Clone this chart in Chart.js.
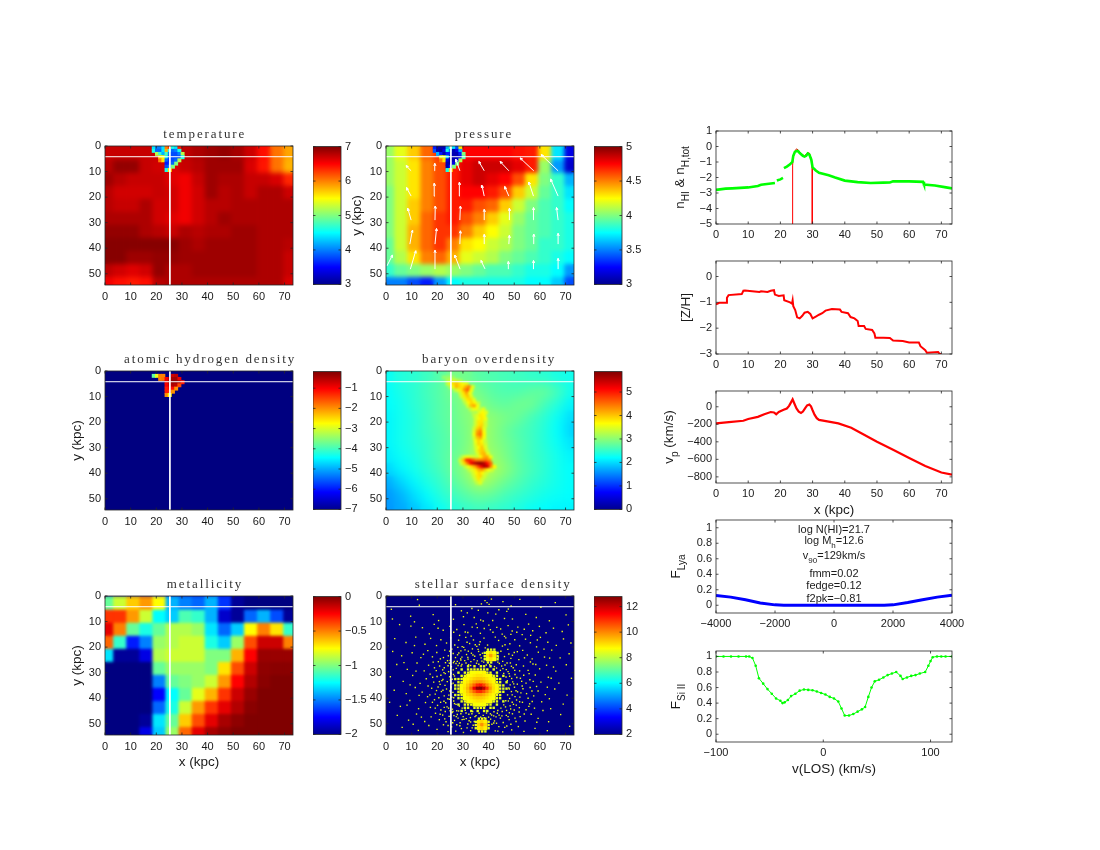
<!DOCTYPE html>
<html>
<head>
<meta charset="utf-8">
<title>Galaxy slice panels</title>
<script src="https://cdn.jsdelivr.net/npm/chart.js@4"></script>
<style>
body { margin: 0; background: #fff; width: 1100px; height: 850px; position: relative; overflow: hidden; }
canvas { position: absolute; }
</style>
</head>
<body>
<script>
const n = null;

// axes
const mapTicksX = [0, 10, 20, 30, 40, 50, 60, 70];
const mapTicksY = [0, 10, 20, 30, 40, 50];
const mapMaxX = 73.3;
const mapMaxY = 54.4;
const crossX = 25.3;
const crossY = 4.2;

// coarse cells of the maps (kpc)
const gridX = [0.75, 5.85, 10.95, 16.05, 21.15, 26.25, 31.35, 36.45, 41.55, 46.65, 51.75, 56.85, 61.95, 67.05, 72.15];
const gridY = [-2.15, 2.95, 8.05, 13.15, 18.25, 23.35, 28.45, 33.55, 38.65, 43.75, 48.85, 53.95];
// fine cells round the cold clump
const clumpX = [19, 20.25, 21.5, 22.75, 24, 25.25, 26.5, 27.75, 29, 30.25];
const clumpY = [0.6, 1.9, 3.1, 4.4, 5.6, 6.9, 8.1, 9.4];

const temperature = [
  [6.72,6.72,6.72,6.72,6.72,6.72,6.75,6.82,6.88,6.92,6.85,6.7,6.45,6.05,5.85],
  [6.72,6.72,6.72,6.72,6.72,6.72,6.75,6.82,6.88,6.92,6.85,6.7,6.45,6.05,5.85],
  [6.78,6.92,6.92,6.72,6.68,6.62,6.72,6.78,6.88,6.88,6.88,6.65,6.42,6.05,5.8],
  [6.88,6.78,6.72,6.72,6.72,6.62,6.55,6.72,6.88,6.82,6.82,6.72,6.72,6.65,6.35],
  [6.78,6.68,6.68,6.68,6.72,6.68,6.55,6.68,6.88,6.78,6.82,6.72,6.82,6.82,6.7],
  [6.78,6.72,6.72,6.82,6.68,6.68,6.55,6.68,6.78,6.78,6.82,6.82,6.82,6.82,6.82],
  [6.82,6.82,6.82,6.82,6.68,6.62,6.55,6.68,6.78,6.88,6.82,6.82,6.82,6.82,6.82],
  [6.92,6.92,6.92,6.82,6.78,6.72,6.82,6.78,6.82,6.82,6.88,6.88,6.82,6.82,6.82],
  [6.97,6.97,6.97,6.97,6.97,6.97,6.88,6.82,6.88,6.88,6.88,6.88,6.82,6.82,6.78],
  [6.97,6.97,6.88,6.88,6.92,6.92,6.88,6.88,6.88,6.88,6.88,6.88,6.82,6.82,6.72],
  [6.75,6.68,6.62,6.68,6.92,6.82,6.82,6.88,6.88,6.88,6.88,6.88,6.82,6.82,6.72],
  [6.55,6.45,6.4,6.45,6.78,6.82,6.82,6.82,6.82,6.82,6.82,6.82,6.82,6.82,6.65]
];
const temperatureClump = [
  [4.4,4,4,4.4,6,6.3,4.6,4.4,6.4,n],
  [4.6,3.9,3.9,4.4,5.8,4.6,3.9,4,4.6,n],
  [n,5.2,4.7,4.2,4.8,4,3.8,3.8,4,5.2],
  [n,n,5.6,5.5,4.6,3.8,3.8,3.8,3.8,4.6],
  [n,n,6,5.6,3.9,3.7,3.8,3.9,5.2,n],
  [n,n,n,n,3.6,3.7,3.9,5,n,n],
  [n,n,n,n,3.8,4,5,n,n,n],
  [n,n,n,n,4.6,5.6,n,n,n,n]
];

const pressure = [
  [4.05,4.2,4.35,4.55,4.65,4.7,4.75,4.75,4.75,4.75,4.72,4.7,4.3,3.7,3.2],
  [4.05,4.2,4.35,4.55,4.65,4.7,4.75,4.75,4.75,4.75,4.72,4.7,4.3,3.7,3.2],
  [4.05,4.15,4.3,4.5,4.6,4.7,4.8,4.85,4.85,4.85,4.8,4.7,4.05,3.55,3.15],
  [4.05,4.15,4.3,4.5,4.6,4.7,4.8,4.85,4.8,4.75,4.6,4.3,4.0,3.85,3.6],
  [4.0,4.15,4.3,4.5,4.6,4.7,4.75,4.75,4.7,4.6,4.35,4.15,3.95,3.85,3.7],
  [4.0,4.15,4.35,4.5,4.6,4.7,4.7,4.6,4.55,4.35,4.15,4.0,3.9,3.85,3.75],
  [4.0,4.15,4.35,4.55,4.65,4.7,4.6,4.5,4.35,4.2,4.05,3.95,3.9,3.85,3.8],
  [4.0,4.15,4.4,4.55,4.65,4.65,4.5,4.35,4.25,4.15,4.0,3.95,3.9,3.85,3.8],
  [3.95,4.15,4.4,4.55,4.65,4.5,4.3,4.25,4.15,4.1,4.0,3.95,3.85,3.85,3.8],
  [3.95,4.1,4.3,4.5,4.55,4.4,4.2,4.15,4.1,4.0,3.95,3.9,3.85,3.8,3.75],
  [3.85,3.95,4.0,4.05,4.1,4.05,4.0,3.95,3.9,3.9,3.85,3.8,3.8,3.75,3.55],
  [3.5,3.5,3.4,3.3,3.55,3.75,3.8,3.8,3.8,3.8,3.8,3.75,3.75,3.65,3.4]
];
const pressureClump = [
  [3.3,3.1,3.1,3.1,3.6,3.9,3.7,3.4,4.3,n],
  [3.4,3.1,3.05,3.2,3.8,3.5,3.1,3.2,3.6,n],
  [n,3.6,3.3,3.1,3.3,3.3,3.1,3.1,3.3,4],
  [n,n,4.2,4.2,3.7,3.1,3.1,3.1,3.2,3.9],
  [n,n,4.5,4.3,3.2,3.05,3.1,3.2,4.1,n],
  [n,n,n,n,3.1,3.05,3.2,4,n,n],
  [n,n,n,n,3.1,3.3,4,n,n,n],
  [n,n,n,n,3.8,4.3,n,n,n,n]
];
// gas velocity arrows on the pressure map: [tail x, tail y, head x, head y]
const velocityArrows = [
  [0.4,46.9,2.5,42.7],[9.5,48.2,11.6,41],[19.1,48.2,19.1,40.8],[28.9,48.2,26.8,42.7],[38.6,48.1,37,44.8],[47.7,48.2,47.7,45.2],[57.5,48.2,57.5,44.8],[67.1,48.2,67.1,44],
  [9.3,38.4,10.3,32.9],[19.1,38.4,19.7,32.3],[28.8,38.4,29,33.2],[38.3,38.4,38.3,34.6],[47.9,38.4,48.1,35],[57.6,38.4,57.6,34.5],[67.1,38.4,67.1,34.2],
  [9.8,29,8.5,24.4],[19.1,29,19.2,23.5],[28.8,29,29,23.5],[38.3,29,38.3,24.8],[48.1,29,48.1,24.4],[57.5,29,57.5,24.1],[67.1,29,66.5,24.1],
  [9.8,19.6,8,16.3],[19.1,19.6,18.8,14.6],[28.8,19.6,28.6,14.2],[38.3,19.6,37.4,15.4],[47.9,19.6,46.3,15.9],[57.5,19.6,55.7,14.1],[67.1,19.6,64.2,13],
  [9.8,9.7,7.8,7.7],[19.1,9.7,19,6.8],[28.8,9.7,27.2,5.2],[38.3,9.7,36.2,6.1],[47.9,9.7,44.5,6.1],[57.6,9.7,52.3,4.7],[67.1,9.7,60.5,3.4]
];

// one big cell is enough for the flat floors of the HI and stellar maps
const floorX = [36.65];
const floorY = [27.2];
const hiFloor = [[-7]];
const stellarFloor = [[2]];
const hiClump = [
  [n,n,n,n,n,n,n,n,n,n],
  [-3.8,-2.9,-1.9,-1.9,n,n,-0.7,-0.6,n,n],
  [n,n,-1.9,-1.8,-1,-0.6,-0.4,-0.4,-0.9,n],
  [n,n,n,n,-0.9,-0.5,-0.3,-0.3,-0.5,-1.2],
  [n,n,n,n,-1,-0.7,-0.5,-0.6,-1.5,n],
  [n,n,n,n,-1.2,-1,-1.1,-2,n,n],
  [n,n,n,n,-1.2,-1.3,-2,n,n,n],
  [n,n,n,n,-2,-2.7,n,n,n,n]
];

const baryon = [
  [2.25,2.4,2.45,2.55,2.7,2.9,2.85,2.7,2.65,2.6,2.55,2.5,2.45,2.35,2.3],
  [2.25,2.4,2.45,2.55,2.7,2.9,2.85,2.7,2.65,2.6,2.55,2.5,2.45,2.35,2.3],
  [2.2,2.35,2.45,2.6,2.7,2.9,3.0,2.85,2.7,2.65,2.65,2.75,2.8,2.6,2.3],
  [2.2,2.3,2.45,2.55,2.7,2.8,3.0,3.0,2.8,2.75,2.85,2.85,2.6,2.4,2.15],
  [2.15,2.3,2.4,2.55,2.7,2.8,2.95,3.1,3.0,2.9,2.8,2.6,2.45,2.25,2.0],
  [2.15,2.3,2.4,2.55,2.65,2.8,2.9,3.2,3.0,2.8,2.65,2.55,2.4,2.2,1.95],
  [2.15,2.3,2.4,2.5,2.65,2.75,2.9,3.2,3.0,2.85,2.7,2.55,2.4,2.25,2.05],
  [2.1,2.25,2.35,2.5,2.65,2.8,2.95,3.3,3.1,2.9,2.7,2.55,2.45,2.3,2.15],
  [1.95,2.15,2.3,2.45,2.6,2.8,3.05,3.5,3.2,3.0,2.75,2.6,2.45,2.3,2.2],
  [1.7,1.95,2.15,2.35,2.5,2.7,2.9,3.2,3.0,2.8,2.65,2.5,2.4,2.3,2.2],
  [1.6,1.75,2.0,2.2,2.4,2.55,2.7,2.8,2.75,2.6,2.5,2.4,2.3,2.25,2.2],
  [1.6,1.7,1.85,2.05,2.25,2.4,2.5,2.55,2.5,2.45,2.35,2.25,2.2,2.15,2.15]
];
// filament cells, 1.25 kpc wide: [y, first x, values...]
const filament = [
  [2.5,22.5,3.05,3.05,3.1,3.1],
  [3.75,24,3.2,3.3,3.4,3.3,3.15],
  [5,24,3.3,3.7,3.9,4.0,3.8,3.6,3.5],
  [6.25,25,3.2,3.6,4.1,3.9,3.8,4.1,4.4,3.5],
  [7.5,27,3.3,3.5,3.8,4.3,4.6,3.6],
  [8.75,29,3.4,3.8,4.2,3.6],
  [10,29.5,3.4,3.8,4.0,3.5],
  [11.25,30.5,3.4,3.8,3.9,3.5],
  [12.5,31,3.3,3.7,3.9,3.7,3.3],
  [13.75,32,3.4,4.0,4.2,3.6],
  [15,33,3.3,3.6,3.6,3.3,3.5],
  [16.25,34,3.2,3.2,3.5,3.7,3.5],
  [17.5,34.5,3.3,3.5,3.8,3.7],
  [18.75,35,3.4,3.6,3.8,3.6],
  [20,35,3.4,3.8,3.8,3.4],
  [21.25,35,3.4,3.8,3.9,3.4],
  [22.5,34.5,3.4,3.9,4.1,3.5],
  [23.75,34.5,3.5,4.2,4.4,3.6],
  [25,34.5,3.6,4.3,4.5,3.7],
  [26.25,34.5,3.4,4.0,4.2,3.6],
  [27.5,35,3.6,3.9,3.7,3.3],
  [28.75,35,3.5,3.9,3.8,3.4],
  [30,35,3.4,3.7,4.0,3.5],
  [31.25,35.5,3.5,3.9,4.0,3.4],
  [32.5,36,3.5,4.0,4.1,3.5],
  [33.75,29.5,3.2,3.5,3.6,3.5,3.4,3.4,3.7,4.1,4.2,3.6],
  [35,29,3.4,4.0,4.9,5,4.7,4.4,4.4,4.4,4.5,4.3],
  [36.25,29.5,3.4,3.9,4.5,5.2,5.5,5.7,5.8,5.6,5.1,4.6],
  [37.5,31,3.3,3.6,3.9,4.2,4.7,5.2,5.6,5.4,4.4,3.7],
  [38.75,32.5,3.3,3.5,3.8,4.1,4.3,4.0,3.6,3.4],
  [40,34,3.4,3.7,3.9,3.7,3.4],
  [41.25,34.5,3.4,3.8,3.9,3.4],
  [42.5,35,3.4,3.8,3.4],
  [43.75,35.5,3.3,3.5]
];

const metallicity = [
  [-1.9,-1.9,-1.9,-1.9,-1.7,-1.9,-1.9,-1.9,-1.9,-1.9,-1.95,-2,-2,-2,-2],
  [-1.05,-0.85,-0.65,-0.55,-0.75,-1.4,-1.5,-1.55,-1.4,-1.65,-1.95,-2,-2,-2,-2],
  [-0.35,-0.35,-0.55,-0.85,-1.25,-1.35,-1.1,-1.15,-1.4,-1.85,-1.95,-1.55,-1.4,-1.6,-1.95],
  [-0.2,-0.5,-1.05,-1.2,-1.05,-0.9,-0.9,-0.95,-1.3,-1.55,-1.35,-0.75,-0.5,-0.7,-1.15],
  [-0.45,-1.15,-1.7,-1.5,-0.95,-0.9,-0.85,-0.85,-1.2,-1.35,-0.95,-0.4,-0.15,-0.15,-0.5],
  [-1.3,-1.95,-1.95,-1.8,-0.9,-0.85,-0.85,-0.85,-1.0,-1.0,-0.6,-0.25,-0.05,-0.05,-0.05],
  [-2,-2,-2,-2,-1.05,-0.95,-0.95,-0.95,-1.0,-0.7,-0.4,-0.15,-0.03,-0.02,-0.02],
  [-2,-2,-2,-2,-1.5,-1.05,-1.0,-0.95,-0.85,-0.55,-0.25,-0.1,-0.02,0,0],
  [-2,-2,-2,-2,-1.75,-1.25,-1.05,-0.8,-0.6,-0.35,-0.15,-0.05,0,0,0],
  [-2,-2,-2,-2,-1.55,-1.2,-0.85,-0.55,-0.35,-0.2,-0.1,-0.02,0,0,0],
  [-2,-2,-2,-1.95,-1.3,-1.05,-0.65,-0.4,-0.2,-0.08,-0.03,0,0,0,0],
  [-2,-2,-2,-1.8,-1.35,-0.95,-0.45,-0.2,-0.08,-0.03,0,0,0,0,0]
];

// stellar disc and the two satellites
const discX = [27,28.25,29.5,30.75,32,33.25,34.5,35.75,37,38.25,39.5,40.75,42,43.25,44.5,45.75,47];
const discY = [27.5,28.75,30,31.25,32.5,33.75,35,36.25,37.5,38.75,40,41.25,42.5,43.75,45];
const disc = [
  [n,n,n,n,8.4,n,8.5,n,8.5,8.5,n,8.4,n,n,n,n,n],
  [n,n,8.4,n,8.5,8.5,8.6,8.5,8.6,8.5,8.6,n,8.5,n,n,n,n],
  [n,8.4,n,8.5,8.6,8.7,8.7,8.8,8.7,8.8,8.6,8.6,n,8.4,n,n,n],
  [n,n,8.5,8.6,8.7,8.8,8.9,9,9,8.9,8.8,8.7,8.6,8.5,n,8.4,n],
  [8.4,8.5,8.5,8.7,8.8,9,9.2,9.3,9.3,9.2,9,8.8,8.7,8.5,8.5,n,n],
  [n,8.5,8.6,8.8,9,9.3,9.6,9.8,9.8,9.6,9.3,9,8.8,8.6,8.5,n,8.4],
  [8.5,8.5,8.7,8.9,9.3,9.8,10.4,11,11.2,10.7,10,9.4,9,8.7,8.5,8.5,n],
  [8.4,8.6,8.7,9,9.5,10.3,11.6,12.6,12.7,12.1,10.9,9.8,9.1,8.8,8.6,8.4,8.5],
  [n,8.5,8.7,8.9,9.3,9.8,10.4,10.9,11,10.6,10,9.4,9,8.7,8.5,8.5,n],
  [8.4,8.5,8.6,8.8,9.1,9.3,9.6,9.8,9.8,9.6,9.3,9,8.8,8.6,8.5,n,n],
  [n,8.4,8.5,8.7,8.8,9,9.2,9.3,9.3,9.2,9,8.8,8.7,8.5,8.4,n,n],
  [n,n,8.5,8.6,8.7,8.8,8.9,9,9,8.9,8.8,8.7,8.5,8.5,n,8.4,n],
  [n,8.4,n,8.5,8.6,8.6,8.7,8.7,8.7,8.7,8.6,8.5,n,8.4,n,n,n],
  [n,n,n,8.4,8.5,n,8.5,8.6,8.6,8.5,n,8.5,8.4,n,n,n,n],
  [n,n,8.4,n,n,8.5,n,8.5,n,8.5,8.4,n,n,n,n,n,n]
];
const satelliteAX = [38.5,39.75,41,42.25,43.5];
const satelliteAY = [21,22.25,23.5,24.75,26];
const satelliteA = [[n,8.4,8.5,8.4,n],[8.4,8.7,9,8.7,8.4],[8.5,9,9.7,9,8.5],[8.4,8.7,9,8.7,8.4],[n,8.4,8.5,n,n]];
const satelliteBX = [35,36.25,37.5,38.75,40];
const satelliteBY = [48,49.25,50.5,51.75,53];
const satelliteB = [[n,8.5,8.6,8.5,n],[8.5,8.9,9.2,8.9,8.5],[8.6,9.2,9.9,9.2,8.6],[8.5,8.9,9.2,8.9,8.5],[n,8.5,8.6,8.4,n]];
// single star pixels
const starSpecks = [
  [12.3,1.4],[38.6,1.8],[39.4,2.6],[37.2,3.1],[40.2,3.3],[41.1,1.2],[13,3.6],[33.5,4.9],[45.6,2.2],[48.8,3.9],[52.2,1.3],[66,2.6],[60.4,4.4],[2.1,5.2],[36,5.6],[31.7,6.6],[47.1,6],[47.7,5.1],[27.1,3.4],[29.4,5.8],[39.7,6.6],[42.8,7.1],[44,5.4],[54.5,7.2],[18.4,7.3],[9.6,7.9],[2.5,9],[30.2,8.1],[34.4,8.4],[36.9,9.4],[41.6,9.6],[46.2,8.8],[49.3,9],[58.6,8.4],[63.7,9.7],[70.2,7.4],[20.5,9.6],[26.3,9.1],[11.1,10.1],
  [5.3,11.2],[9.7,11.8],[14.2,12.4],[18.8,11.1],[22.3,13.4],[24.9,11.9],[27.6,13.1],[30.4,11.2],[31.9,14.3],[33.6,12.2],[35.2,10.9],[36.8,14.6],[38.3,12.7],[40.1,11.4],[41.7,14.2],[43.2,12.3],[45.3,14.9],[47.6,11.6],[49.2,13.7],[51.4,12.2],[53.1,15.1],[55.6,11],[57.2,13.6],[59.8,11.9],[62.4,14.4],[65.3,12.6],[68.7,13.9],[71.1,11.3],
  [3.4,16.7],[7.8,18.2],[11.6,16.1],[15.2,18.9],[17.4,16.6],[19.7,19.4],[21.4,17.1],[23.6,18.4],[25.2,16.4],[26.8,19.2],[28.3,17.3],[29.7,19.8],[31.1,16.2],[32.6,18.6],[34.1,17.2],[35.4,19.7],[36.7,17.9],[38.2,16.5],[39.6,19.2],[43.9,17.4],[45.4,19.6],[46.7,16.4],[48.3,18.7],[50.2,17.1],[52.1,19.5],[54.4,16.9],[56.3,18.3],[58.7,19.9],[60.2,16.2],[63.1,18.1],[66.4,19.3],[69.2,16.8],[72.1,18.4],
  [2.6,21.7],[6.1,23.4],[10.2,22.2],[13.6,24.1],[16.3,21.4],[18.1,23.8],[19.8,22.1],[21.2,24.6],[22.9,21.2],[24.3,23.4],[25.7,20.8],[27.1,24.1],[28.4,22.3],[29.6,23.9],[30.8,21.1],[32,24.7],[33.3,22.4],[34.6,23.6],[35.9,20.9],[37.1,24.2],[44.8,21.6],[46.2,23.7],[47.5,20.9],[48.7,24.4],[50,22.1],[51.8,24.9],[53.3,21.3],[55.1,23.1],[57,24.6],[59.4,22],[61.8,23.9],[64.6,21.2],[67.9,24.2],[71.4,22.6],
  [4.2,26.8],[8.3,28.7],[12.1,26.2],[14.9,29.3],[16.6,27.1],[18.4,25.9],[19.6,29.2],[20.9,27.4],[22.1,28.9],[23.2,26.1],[24.4,29.6],[25.5,27.7],[26.6,25.6],[27.4,28.3],[28.6,26.3],[29.3,27.4],[31.2,26.2],[33.1,25.7],[35.3,26.3],[38.1,25.9],[40.4,26.9],[42.3,27.6],[44.2,26.4],[45.6,28.4],[46.4,27],[47.6,29.6],[48.5,26.2],[49.6,28.1],[50.8,26.9],[52.1,29.3],[53.6,27.4],[55.4,29.1],[57.3,26.6],[59.9,28.5],[62.6,27.1],[66.2,29.4],[70.3,26.9],
  [1.7,31.6],[6.7,33.4],[10.4,31.1],[13.3,34.2],[15.7,32.4],[17.2,30.6],[18.6,33.7],[19.9,31.5],[21.1,34.6],[22.2,32.7],[23.1,30.4],[23.9,33.5],[24.8,31.6],[25.6,34.4],[26.3,30.7],[25.1,32.9],[48.2,31.4],[49.4,33.6],[50.3,30.7],[51.2,34.5],[52.4,32.2],[53.7,31],[54.6,34.1],[56.1,32.8],[58.2,30.9],[60.4,33.7],[63.3,31.8],[67.4,34.1],[72.3,32.2],
  [3.2,36.9],[7.9,38.2],[11.4,35.8],[14.1,37.6],[16.2,39.4],[17.8,36.1],[19.2,38.4],[20.3,35.6],[21.6,37.4],[22.7,39.1],[23.6,36.4],[24.5,38.8],[25.3,35.4],[26.1,37.7],[26.4,39.8],[48.1,36.4],[49.2,38.7],[50.1,35.7],[51.3,37.5],[52.2,39.6],[53.4,36.3],[54.8,38.2],[56.2,35.8],[57.6,39.1],[59.3,37.2],[62.1,38.6],[65.8,36.4],[70.6,38.8],
  [1.4,41.6],[5.6,43.2],[9.3,40.9],[12.7,44.1],[15.4,41.7],[17.3,43.6],[18.9,40.6],[20.1,42.8],[21.4,44.6],[22.6,41.2],[23.8,43.4],[24.7,40.4],[25.9,44.3],[26.7,42.1],[27.6,44.9],[46.6,43.4],[47.7,41.1],[48.6,44.2],[49.7,42.4],[50.9,40.7],[52,43.7],[53.2,41.6],[54.6,44.5],[56,42.2],[57.9,43.9],[60.7,41.4],[64.2,44.1],[69.1,42.3],
  [4.4,46.7],[8.8,48.6],[11.9,46.2],[15.1,49.1],[17.6,47.3],[19.3,45.9],[20.8,48.4],[22.1,46.6],[23.4,49.2],[24.6,47.1],[25.8,45.6],[26.7,48.7],[27.8,46.4],[28.9,49.6],[30.1,47.2],[31.2,45.8],[32.4,48.8],[33.5,46.1],[34.7,47.2],[41.2,46.6],[42.3,48.9],[43.4,45.9],[44.6,47.8],[45.7,49.5],[46.9,46.7],[48,48.4],[49.3,46.1],[50.7,49.1],[52.3,47.2],[54.2,48.9],[56.6,46.3],[59.3,47.9],[63.4,49.2],[68.1,46.4],
  [6.3,51.4],[12.6,52.6],[16.7,50.7],[19.9,52.2],[22.4,50.4],[24.2,53.1],[25.6,51.2],[27.2,52.9],[28.8,50.8],[30.2,53.4],[31.6,51.6],[33,52.7],[34,50.6],[41.3,50.2],[42.6,52.8],[44,51.1],[45.5,53.2],[47.1,50.9],[49,52.4],[51.6,51.1],[53.8,53],[58.1,51.8],[62.9,52.7],[71.6,51],
  // densest ring round the disc
  [27.3,26.4],[28.1,27.2],[26.2,28.9],[25.4,30.2],[27.8,25.6],[29.6,26.8],[30.7,25.3],[32.2,26.9],[34.3,24.9],[36.2,26.7],[37.4,25.5],[39.1,27],[41.2,25.1],[43.1,28.2],[44.6,29.1],[45.9,30.3],[46.8,31.7],[47.3,33.1],[48.4,34.8],[47.9,36],[48.9,37.4],[47.4,38.7],[48.2,40.1],[46.7,41],[45.9,42.6],[44.8,43.9],[43.6,44.8],[42.1,45.3],[40.7,46.1],[39.2,45.8],[37.9,46.7],[36.3,45.9],[35.1,46.8],[33.8,45.2],[32.3,46.3],[30.9,44.7],[29.7,43.9],[28.6,43.1],[27.3,42.4],[26.4,41.1],[25.7,39.6],[24.9,37.2],[25.3,35.9],[26.2,34.1],[25.8,32.6],[26.7,31.3],
  [24.2,27.3],[25,25.2],[22.6,30],[21.8,33.1],[23,35],[22.2,36.9],[24.1,40.2],[23.3,41.8],[24.4,43.9],[26.1,45.2],[27.4,47.2],[29.2,46.1],[28.3,45],[30.4,48.3],[32.9,47.6],[35.8,48.9],[34.4,49.1],[40.8,48.2],[42.9,47.3],[44.1,46.6],[45.3,45.2],[47,44.8],[48.4,43],[49.2,41.6],[50.3,39.4],[50.7,37.1],[49.8,34.4],[49,32.3],[48,30.4],[46.9,28.8],[45.1,27.4],[43.6,25.9],[40.6,24.9],[36.7,23],[33.9,23.1],[31.4,22.9],[29.1,24.6],[27.9,23],[26.3,26.1],[24.7,26.3],
  [29.2,25.1],[31.9,24],[33,27.2],[35.6,25.4],[38.6,24.3],[43.8,23.9],[45.5,25.6],[47.2,26.2],[48.9,27.5],[50.2,29.1],[51,31.9],[52.9,33.4],[53.1,35.2],[52.6,37.9],[52.1,41.4],[50.8,42.7],[50,44.6],[48.1,45.7],[47.6,47.2],[45.2,46.9],[43.1,49.8],[42,46.9],[40,47.4],[38.3,47.6],[36.9,47.4],[33,49.3],[31.3,48],[29.7,48.4],[28.1,47.8],[26.5,46.8],[25,44.9],[23.1,45.2],[22.7,43.6],[21.3,41.6],[20.6,39.8],[19.7,37],[20.8,33.5],[21.4,31],[22.7,28.1],[24,25.3],
  [30.3,20.1],[32.1,21.6],[34.8,19.1],[36.1,21.7],[38.7,20.3],[37.6,22.4],[36.4,19],[33.7,20.7],[31.6,18.1],[29.2,21.5],[28,20.1],[26.2,22.5],[24.8,21.6],[46.4,19.1],[47.9,22.7],[49.3,23.2],[51.2,21.8],[54,24.2],[56.3,25.8],[58.4,26.8],[55.8,30.4],[57.4,33.4],[58.7,35.4],[56.9,37.2],[55.4,40],[57,41.3],[55.7,43.2],[53.9,46.2],[51.9,45.4],[50.3,47.8],[48.7,50.2],[46.3,51.4],[43.6,52.9],[42,49.7],[33.6,51.6],[31.9,50.1],[29.4,51.9],[27.6,50.4],[26,49.6],[24.2,50.7],[22.9,48.1],[21.1,46.3],[19.2,43.9],[18.1,41.6],[17.1,38.7],[16.4,35.2],[18.2,31.8],[18.9,28.1],[20.4,25.7],[22.4,24.1],
  [37.9,9.8],[35.6,12.4],[33.2,15.7],[30.9,14.1],[28.7,15.4],[26.4,14.2],[40.7,13.2],[42.6,16.1],[44.7,12.9],[46.2,15.8],[48.7,15],[51,14.2],[53.9,13],[56.4,15.4],[59,17.2],[61.6,20.8],[63.8,24.3],[65.3,27.8],[64.4,32.2],[62.9,35.7],[63.7,40.2],[61.2,44.8],[58.8,49.4],[11.7,29.4],[9.4,34.8],[12.9,38.9],[8.2,42.7],[13.8,47.4],[10.6,50.2],[7,26.1],[14.6,22.8],[11.1,19.4],[16.9,14.8],[20.3,12.6]
];

// right column profiles
const hiX = [23.7,23.8,24,24.5,25,25.5,26,27,27.5,28,28.5,29,29.6,29.9,29.9];
const hiDensity = [-5,-1.2,-0.7,-0.3,-0.15,-0.22,-0.35,-0.55,-0.58,-0.5,-0.4,-0.42,-0.8,-1.1,-5];
const hTotX = [0,3,5,10,13,14,18.3,18.6,18.9,20,20.8,20.9,21.1,22,23,23.7,24,24.5,25,25.5,26,27,27.5,28,28.5,29,29.6,30,31,32,35,37,40,44,48,52,54,55,60,64.3,64.6,68,71,73.3];
const hTotDensity = [-2.8,-2.72,-2.7,-2.64,-2.55,-2.47,-2.36,n,-2.2,-2.12,-2.03,n,-1.4,-1.3,-1.15,-1,-0.6,-0.35,-0.3,-0.3,-0.42,-0.6,-0.65,-0.6,-0.45,-0.52,-0.85,-1.35,-1.55,-1.7,-1.85,-2,-2.2,-2.3,-2.35,-2.33,-2.32,-2.25,-2.25,-2.28,-2.45,-2.52,-2.62,-2.7];

const zhX = [0,1,3.2,3.4,3.9,8,8.5,9,12,13.5,14,16,17,18,18.3,19.5,21,21.2,23,23.6,23.8,24,24.6,25.2,26,26.8,27.5,28.5,29.3,30,31,32,33,34,36,38.5,39,41,41.8,43,44,44.3,46,46.5,48.5,49.2,49.5,52,54,55,58,60,63,63.5,65,65.5,69,69.5,70];
const zhValues = [-1.08,-1.02,-1.02,-0.82,-0.72,-0.68,-0.55,-0.54,-0.58,-0.6,-0.57,-0.6,-0.55,-0.53,-0.7,-0.75,-0.73,-0.92,-1,-1.05,-0.92,-1.15,-1.3,-1.58,-1.62,-1.52,-1.4,-1.37,-1.45,-1.62,-1.55,-1.48,-1.42,-1.32,-1.26,-1.28,-1.37,-1.42,-1.57,-1.62,-1.72,-1.92,-1.92,-2.03,-2.07,-2.2,-2.37,-2.37,-2.38,-2.48,-2.5,-2.55,-2.55,-2.7,-2.85,-2.95,-2.92,-3,-3];

const vpX = [0,4,8.5,10,13,15,17,18,18.7,19.5,21,22,22.7,23.3,23.8,24.3,25,25.7,26.4,27,27.7,28.3,29,29.5,30,30.6,31.3,32,35,38,42,45,50,55,60,65,70,73.3];
const vpValues = [-190,-175,-160,-140,-115,-85,-60,-65,-85,-60,-35,-20,10,50,85,40,-20,-55,-70,-55,-15,15,25,5,-40,-90,-130,-150,-170,-190,-240,-300,-400,-490,-585,-675,-750,-775];

const lyaV = [-4000,-3500,-3000,-2500,-2000,-1700,1700,2000,2500,3000,3500,4000];
const lyaFlux = [0.125,0.105,0.07,0.03,0.005,0,0,0.005,0.035,0.07,0.105,0.13];
const sightlineNotes = ['log N(HI)=21.7', 'log M_{h}=12.6', 'v_{90}=129km/s', 'fmm=0.02', 'fedge=0.12', 'f2pk=\u22120.81'];
const sightlineNoteY = [0.97, 0.83, 0.63, 0.41, 0.245, 0.08];

const siV = [-100,-93,-86,-79,-72,-69,-66,-63,-60,-56,-52,-48,-44,-40,-38,-36,-33,-30,-26,-22,-18,-14,-10,-6,-2,2,6,10,14,17,20,24,28,32,36,39,42,45,48,52,56,60,64,68,72,74,78,82,86,90,95,98,100,102,106,110,114,120];
const siFlux = [1,1,1,1,1,1,0.98,0.88,0.72,0.65,0.58,0.52,0.46,0.43,0.4,0.41,0.44,0.49,0.52,0.56,0.575,0.57,0.565,0.55,0.53,0.51,0.48,0.46,0.42,0.33,0.24,0.24,0.26,0.29,0.32,0.35,0.48,0.6,0.68,0.7,0.73,0.76,0.78,0.8,0.75,0.71,0.73,0.75,0.76,0.78,0.8,0.88,0.94,0.99,1,1,1,1];

const jetStops = [[0,'#00008f'],[0.125,'#0000ff'],[0.375,'#00ffff'],[0.625,'#ffff00'],[0.875,'#ff0000'],[1,'#800000']];

function jet(v, range) {
  const t = Math.min(1, Math.max(0, (v - range[0]) / (range[1] - range[0])));
  const ch = d => Math.round(255 * Math.min(1, Math.max(0, 1.5 - Math.abs(4 * t - d))));
  return `rgb(${ch(3)},${ch(2)},${ch(1)})`;
}

function cellSet(points, size, range, soften) {
  return {
    data: points,
    clip: 0,
    soften: soften,
    showLine: false,
    pointStyle: 'rect',
    pointBorderWidth: 0,
    pointBackgroundColor: points.map(p => jet(p.v, range)),
    pointRadius: ctx => {
      const s = ctx.chart.scales.x;
      return (s.getPixelForValue(size) - s.getPixelForValue(0) + 0.6) / Math.SQRT2;
    }
  };
}

function gridPoints(xs, ys, rows) {
  const points = [];
  ys.forEach((y, j) => xs.forEach((x, i) => {
    if (rows[j][i] !== null) points.push({ x: x, y: y, v: rows[j][i] });
  }));
  return points;
}

function filamentPoints() {
  const points = [];
  filament.forEach(row => row.slice(2).forEach((v, i) => points.push({ x: row[1] + i * 1.25, y: row[0], v: v })));
  return points;
}

function zip(xs, ys) {
  return xs.map((x, i) => ({ x: x, y: ys[i] }));
}

function lineSet(points, color, width, dot) {
  return { data: points, showLine: true, borderColor: color, borderWidth: width, pointRadius: dot || 0, pointBackgroundColor: color, pointBorderWidth: 0, spanGaps: false, tension: 0 };
}

function crossSets() {
  return [
    lineSet([{ x: crossX, y: 0 }, { x: crossX, y: mapMaxY }], '#fff', 1),
    lineSet([{ x: 0, y: crossY }, { x: mapMaxX, y: crossY }], '#fff', 1)
  ];
}

function arrowSet() {
  const points = [];
  velocityArrows.forEach(a => {
    const dx = a[2] - a[0], dy = a[3] - a[1];
    const len = Math.hypot(dx, dy), ux = dx / len, uy = dy / len, barb = 0.95;
    points.push({ x: a[0], y: a[1] }, { x: a[2], y: a[3] },
      { x: a[2] - barb * ux - 0.4 * uy, y: a[3] - barb * uy + 0.4 * ux }, { x: a[2], y: a[3] },
      { x: a[2] - barb * ux + 0.4 * uy, y: a[3] - barb * uy - 0.4 * ux }, { x: NaN, y: NaN });
  });
  return lineSet(points, '#fff', 1);
}

function drawRich(c, str, x, y, size) {
  const parts = str.split(/_\{(.*?)\}/);
  const sub = Math.round(size * 0.76);
  let w = 0;
  parts.forEach((p, i) => { c.font = `${i % 2 ? sub : size}px "Liberation Sans"`; w += c.measureText(p).width; });
  let cx = x - w / 2;
  parts.forEach((p, i) => {
    c.font = `${i % 2 ? sub : size}px "Liberation Sans"`;
    c.fillText(p, cx, y + (i % 2 ? size * 0.4 : 0));
    cx += c.measureText(p).width;
  });
}

// box with inward ticks on all four sides, like the plotting package that made the original
const framePlugin = {
  id: 'frame',
  afterDraw(chart) {
    const a = chart.chartArea, c = chart.ctx;
    c.save();
    c.strokeStyle = '#262626';
    c.lineWidth = 0.8;
    c.strokeRect(a.left, a.top, a.width, a.height);
    c.beginPath();
    Object.values(chart.scales).forEach(s => {
      if (!s.options.display) return;
      s.ticks.forEach(t => {
        const p = s.getPixelForValue(t.value);
        if (s.isHorizontal()) {
          c.moveTo(p, a.bottom); c.lineTo(p, a.bottom - 2.5);
          c.moveTo(p, a.top); c.lineTo(p, a.top + 2.5);
        } else {
          c.moveTo(a.left, p); c.lineTo(a.left + 2.5, p);
          c.moveTo(a.right, p); c.lineTo(a.right - 2.5, p);
        }
      });
    });
    c.stroke();
    c.restore();
  }
};

// blurs what is drawn so far inside the plot box
const softenPlugin = {
  id: 'soften',
  afterDatasetDraw(chart, args) {
    const px = chart.data.datasets[args.index].soften;
    if (!px) return;
    const a = chart.chartArea, c = chart.ctx, r = chart.currentDevicePixelRatio;
    c.save();
    c.beginPath();
    c.rect(a.left, a.top, a.width, a.height);
    c.clip();
    c.filter = `blur(${px}px)`;
    c.drawImage(chart.canvas, a.left * r, a.top * r, a.width * r, a.height * r, a.left, a.top, a.width, a.height);
    c.restore();
  }
};

const labelPlugin = {
  id: 'panelLabels',
  afterDraw(chart, args, opts) {
    const a = chart.chartArea, c = chart.ctx;
    c.save();
    c.fillStyle = '#1a1a1a';
    if (opts.title) {
      c.font = '13px "Liberation Serif"';
      c.letterSpacing = '1.9px';
      c.textAlign = 'center';
      c.fillStyle = '#333';
      c.fillText(opts.title, chart.scales.x.getPixelForValue(opts.titleX), a.top - 8);
      c.letterSpacing = '0px';
      c.fillStyle = '#1a1a1a';
    }
    c.textAlign = 'left';
    if (opts.yLabel) {
      c.save();
      c.translate(a.left + opts.yLabelOffset, (a.top + a.bottom) / 2);
      c.rotate(-Math.PI / 2);
      drawRich(c, opts.yLabel, 0, 0, 13.5);
      c.restore();
    }
    if (opts.notes) {
      c.textBaseline = 'middle';
      opts.notes.forEach((t, i) => drawRich(c, t, chart.scales.x.getPixelForValue(0), chart.scales.y.getPixelForValue(opts.noteY[i]), 11));
    }
    c.restore();
  }
};

Chart.register(framePlugin, softenPlugin, labelPlugin);
Chart.defaults.animation = false;
Chart.defaults.events = [];
Chart.defaults.font.family = '"Liberation Sans"';
Chart.defaults.font.size = 11;
Chart.defaults.color = '#1a1a1a';

const tickText = v => String(v).replace('-', '\u2212');

function addCanvas(box, m) {
  const canvas = document.createElement('canvas');
  canvas.width = m.left + box.w + m.right;
  canvas.height = m.top + box.h + m.bottom;
  canvas.style.left = (box.x - m.left) + 'px';
  canvas.style.top = (box.y - m.top) + 'px';
  document.body.appendChild(canvas);
  return canvas;
}

function axis(min, max, ticks, size, extra) {
  return Object.assign({
    type: 'linear',
    min: min,
    max: max,
    afterBuildTicks: s => { s.ticks = ticks.map(v => ({ value: v })); },
    afterFit: s => { if (s.isHorizontal()) s.height = size; else s.width = size; },
    grid: { display: false, drawTicks: false },
    border: { display: false },
    ticks: { autoSkip: false, maxRotation: 0, minRotation: 0, padding: 4, callback: tickText }
  }, extra);
}

function axisTitle(text, top, bottom) {
  return { display: true, text: text, font: { size: 13.5 }, padding: { top: top, bottom: bottom } };
}

const plotMargin = { left: 56, top: 24, bottom: 36, right: 18 };

function plot(box, o) {
  const xExtra = {};
  const yExtra = { reverse: !!o.reverseY };
  if (o.xTitle) xExtra.title = axisTitle(o.xTitle, 0, 1);
  if (o.yTitle) yExtra.title = axisTitle(o.yTitle, o.yTitlePad, 0);
  const xa = axis(o.xRange[0], o.xRange[1], o.xTicks, plotMargin.bottom, xExtra);
  xa.ticks.padding = o.xPad || 5;
  new Chart(addCanvas(box, plotMargin), {
    type: 'scatter',
    data: { datasets: o.sets },
    options: {
      responsive: false,
      layout: { autoPadding: false, padding: { top: plotMargin.top, right: plotMargin.right, left: 0, bottom: 0 } },
      scales: { x: xa, y: axis(o.yRange[0], o.yRange[1], o.yTicks, plotMargin.left, yExtra) },
      plugins: {
        legend: { display: false },
        tooltip: { enabled: false },
        panelLabels: { title: o.title, titleX: o.titleX, yLabel: o.yLabel, yLabelOffset: o.yLabelOffset, notes: o.notes, noteY: o.noteY }
      }
    }
  });
}

function colorbar(box, range, ticks) {
  const m = { left: 0, top: 10, bottom: 10, right: 44 };
  new Chart(addCanvas(box, m), {
    type: 'bar',
    data: {
      labels: [''],
      datasets: [{
        data: [range],
        categoryPercentage: 1,
        barPercentage: 1,
        borderWidth: 0,
        backgroundColor: ctx => {
          const a = ctx.chart.chartArea;
          if (!a) return '#888';
          const g = ctx.chart.ctx.createLinearGradient(0, a.bottom, 0, a.top);
          jetStops.forEach(s => g.addColorStop(s[0], s[1]));
          return g;
        }
      }]
    },
    options: {
      responsive: false,
      layout: { autoPadding: false, padding: { top: m.top, bottom: m.bottom, left: 0, right: 0 } },
      scales: {
        x: { display: false },
        y: axis(range[0], range[1], ticks, m.right, { position: 'right' })
      },
      plugins: { legend: { display: false }, tooltip: { enabled: false } }
    }
  });
}

function mapPanel(col, rowTop, o) {
  const x = col === 0 ? 105 : 386;
  plot({ x: x, y: rowTop, w: 188, h: 139 }, {
    xRange: [0, mapMaxX], yRange: [0, mapMaxY], xTicks: mapTicksX, yTicks: mapTicksY, reverseY: true,
    title: o.title, titleX: o.titleX, xTitle: o.xTitle, yTitle: o.yTitle, yTitlePad: col === 0 ? 20 : 19,
    sets: o.sets
  });
  colorbar({ x: x + 208, y: rowTop, w: 28, h: 139 }, o.range, o.barTicks);
}

const tRange = [3, 7], pRange = [3, 5], hiRange = [-7, -0.18], bRange = [0, 5.87], zRange = [-2, 0], sRange = [2, 12.78];

// the faint outskirts of the disc and satellites are broken up, so those cells stay small
const starCells = [...gridPoints(discX, discY, disc), ...gridPoints(satelliteAX, satelliteAY, satelliteA), ...gridPoints(satelliteBX, satelliteBY, satelliteB)];
const starCore = starCells.filter(p => p.v >= 8.65);
const starEdge = starCells.filter(p => p.v < 8.65);

mapPanel(0, 146, {
  title: 'temperature', titleX: 38.9, range: tRange, barTicks: [3, 4, 5, 6, 7],
  sets: [...crossSets(),
    cellSet(gridPoints(clumpX, clumpY, temperatureClump), 1.3, tRange, 0.6),
    cellSet(gridPoints(gridX, gridY, temperature), 5.1, tRange, 2.4)]
});
mapPanel(1, 146, {
  title: 'pressure', titleX: 38.2, yTitle: 'y (kpc)', range: pRange, barTicks: [3, 3.5, 4, 4.5, 5],
  sets: [...crossSets(), arrowSet(),
    cellSet(gridPoints(clumpX, clumpY, pressureClump), 1.3, pRange, 0.6),
    cellSet(gridPoints(gridX, gridY, pressure), 5.1, pRange, 2)]
});
mapPanel(0, 371, {
  title: 'atomic hydrogen density', titleX: 41, yTitle: 'y (kpc)', range: hiRange, barTicks: [-7, -6, -5, -4, -3, -2, -1],
  sets: [...crossSets(),
    cellSet(gridPoints(clumpX, clumpY, hiClump), 1.3, hiRange, 0.6),
    cellSet(gridPoints(floorX, floorY, hiFloor), 76, hiRange)]
});
mapPanel(1, 371, {
  title: 'baryon overdensity', titleX: 40.2, range: bRange, barTicks: [0, 1, 2, 3, 4, 5],
  sets: [...crossSets(),
    cellSet(filamentPoints(), 1.3, bRange, 0.9),
    cellSet(gridPoints(gridX, gridY, baryon), 5.1, bRange, 6)]
});
mapPanel(0, 596, {
  title: 'metallicity', titleX: 39, xTitle: 'x (kpc)', yTitle: 'y (kpc)', range: zRange, barTicks: [-2, -1.5, -1, -0.5, 0],
  sets: [...crossSets(),
    cellSet(gridPoints(gridX, gridY, metallicity), 5.1, zRange, 1.5)]
});
mapPanel(1, 596, {
  title: 'stellar surface density', titleX: 41.8, xTitle: 'x (kpc)', range: sRange, barTicks: [2, 4, 6, 8, 10, 12],
  sets: [...crossSets(),
    cellSet(starCore, 1.3, sRange, 0.6),
    cellSet(starEdge, 0.7, sRange),
    cellSet(starSpecks.map(s => ({ x: s[0], y: s[1], v: 8.6 })), 0.3, sRange, 0.5),
    cellSet(gridPoints(floorX, floorY, stellarFloor), 76, sRange)]
});

const profileBox = y => ({ x: 716, y: y, w: 236, h: 93 });
plot(profileBox(131), {
  xRange: [0, mapMaxX], yRange: [-5, 1], xTicks: mapTicksX, yTicks: [-5, -4, -3, -2, -1, 0, 1], xPad: 4,
  yLabel: 'n_{HI} & n_{H,tot}', yLabelOffset: -32,
  sets: [lineSet(zip(hTotX, hTotDensity), '#00ff00', 2.6), lineSet(zip(hiX, hiDensity), '#ff0000', 1)]
});
plot(profileBox(261), {
  xRange: [0, mapMaxX], yRange: [-3, 0.6], xTicks: mapTicksX, yTicks: [-3, -2, -1, 0], xPad: 4,
  yTitle: '[Z/H]', yTitlePad: 18,
  sets: [lineSet(zip(zhX, zhValues), '#ff0000', 2)]
});
plot({ x: 716, y: 391, w: 236, h: 92 }, {
  xRange: [0, mapMaxX], yRange: [-870, 180], xTicks: mapTicksX, yTicks: [-800, -600, -400, -200, 0], xPad: 4,
  xTitle: 'x (kpc)', yLabel: 'v_{p} (km/s)', yLabelOffset: -43,
  sets: [lineSet(zip(vpX, vpValues), '#ff0000', 2.2)]
});
plot(profileBox(520), {
  xRange: [-4000, 4000], yRange: [-0.1, 1.1], xTicks: [-4000, -2000, 0, 2000, 4000], yTicks: [0, 0.2, 0.4, 0.6, 0.8, 1], xPad: 4,
  yLabel: 'F_{Lya}', yLabelOffset: -36, notes: sightlineNotes, noteY: sightlineNoteY,
  sets: [lineSet(zip(lyaV, lyaFlux), '#0000ff', 3)]
});
plot({ x: 716, y: 651, w: 236, h: 91 }, {
  xRange: [-100, 120], yRange: [-0.1, 1.07], xTicks: [-100, 0, 100], yTicks: [0, 0.2, 0.4, 0.6, 0.8, 1], xPad: 4,
  xTitle: 'v(LOS) (km/s)', yLabel: 'F_{Si II}', yLabelOffset: -36,
  sets: [lineSet(zip(siV, siFlux), '#00ff00', 1, 1.3)]
});
</script>
</body>
</html>
